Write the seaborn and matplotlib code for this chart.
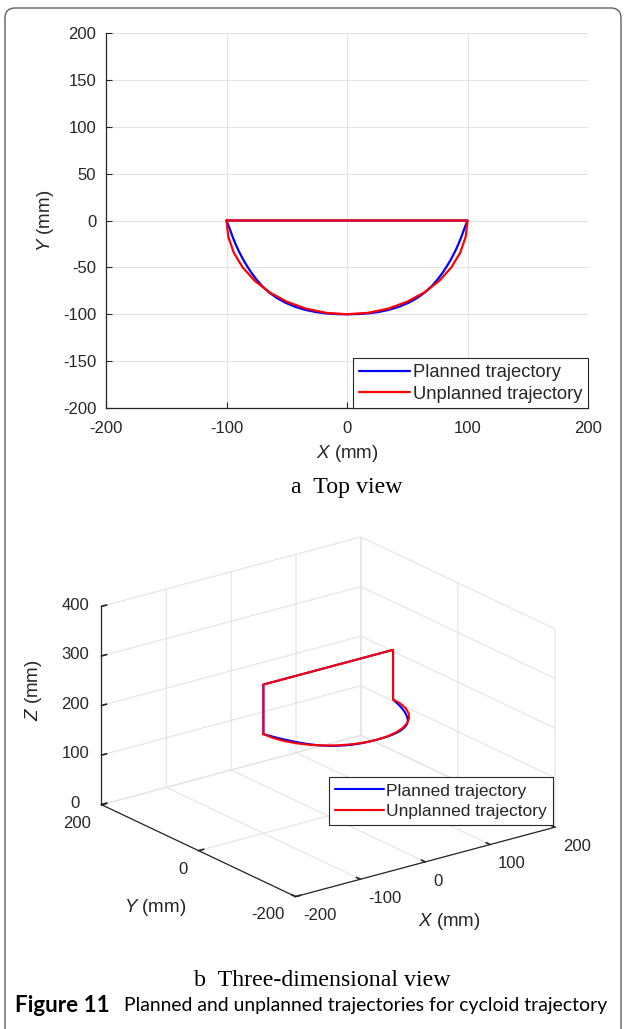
import numpy as np
import pandas as pd
import matplotlib
matplotlib.use("Agg")
import matplotlib.pyplot as plt
import seaborn as sns
from matplotlib.patches import FancyBboxPatch
from matplotlib.transforms import IdentityTransform

# ---------------- data ----------------
planned_x = [-100.0, -97.4, -95.1, -92.6, -89.8, -86.7, -83.2, -79.4, -75.1, -70.2,
             -64.5, -58.0, -50.8, -42.9, -34.7, -26.1, -17.5, -8.7, 0.0,
             8.7, 17.5, 26.1, 34.7, 42.9, 50.8, 58.0, 64.5, 70.2, 75.1,
             79.4, 83.2, 86.7, 89.8, 92.6, 95.1, 97.4, 100.0]
planned_y = [0.0, -8.5, -16.8, -24.8, -32.7, -40.4, -48.1, -55.6, -63.0, -70.2,
             -76.9, -82.8, -87.9, -92.1, -95.3, -97.6, -99.1, -99.8, -100.0,
             -99.8, -99.1, -97.6, -95.3, -92.1, -87.9, -82.8, -76.9, -70.2, -63.0,
             -55.6, -48.1, -40.4, -32.7, -24.8, -16.8, -8.5, 0.0]
unplanned_x = [-100.0, -98.5, -94.0, -86.6, -76.6, -64.3, -50.0, -34.2, -17.4, 0.0,
               17.4, 34.2, 50.0, 64.3, 76.6, 86.6, 94.0, 98.5, 100.0]
unplanned_y = [0.0, -17.4, -34.2, -50.0, -64.3, -76.6, -86.6, -94.0, -98.5, -100.0,
               -98.5, -94.0, -86.6, -76.6, -64.3, -50.0, -34.2, -17.4, 0.0]
curve_z = 200      # height of the curved part (mm)
top_z = 300        # height of the straight return segment (mm)

xy_ticks = [-200, -150, -100, -50, 0, 50, 100, 150, 200]
x2d_ticks = [-200, -100, 0, 100, 200]
x3d_ticks = [-200, -100, 0, 100, 200]
y3d_ticks = [-200, 0, 200]
z3d_ticks = [0, 100, 200, 300, 400]
series_names = ["Planned trajectory", "Unplanned trajectory"]
series_colors = ["#0000FF", "#FF0000"]

# ---------------- style ----------------
sns.set_theme(style="white")
plt.rcParams["font.family"] = ["Liberation Sans", "DejaVu Sans"]
plt.rcParams["mathtext.fontset"] = "custom"
plt.rcParams["mathtext.it"] = "Liberation Sans:italic"
plt.rcParams["mathtext.rm"] = "Liberation Sans"
plt.rcParams["axes.unicode_minus"] = False
plt.rcParams["grid.color"] = "#e3e3e3"
plt.rcParams["grid.linewidth"] = 0.8
DARK = "#262626"

W, H = 624, 1029
fig = plt.figure(figsize=(W / 100, H / 100), dpi=100)
fig.patch.set_facecolor("white")


def rect(x0, y0, x1, y1):
    return [x0 / W, 1 - y1 / H, (x1 - x0) / W, (y1 - y0) / H]


# ---------------- (a) top view ----------------
ax = fig.add_axes(rect(106, 33, 588, 408))
df_p = pd.DataFrame({"x": planned_x + [planned_x[0]], "y": planned_y + [planned_y[0]]})
df_u = pd.DataFrame({"x": unplanned_x + [unplanned_x[0]], "y": unplanned_y + [unplanned_y[0]]})
sns.lineplot(data=df_p, x="x", y="y", sort=False, estimator=None, ax=ax,
             color=series_colors[0], lw=1.6, label=series_names[0])
sns.lineplot(data=df_u, x="x", y="y", sort=False, estimator=None, ax=ax,
             color=series_colors[1], lw=1.6, label=series_names[1])
ax.set_xlim(-200, 200)
ax.set_ylim(-200, 200)
ax.set_xticks(x2d_ticks)
ax.set_yticks(xy_ticks)
ax.grid(True, color="#e3e3e3", lw=0.8)
for s in ["top", "right"]:
    ax.spines[s].set_visible(False)
for s in ["left", "bottom"]:
    ax.spines[s].set_color(DARK)
    ax.spines[s].set_linewidth(0.9)
ax.tick_params(direction="in", length=4, width=0.8, color=DARK, labelcolor=DARK,
               labelsize=12, left=True, bottom=True)
ax.tick_params(axis="x", pad=9)
ax.tick_params(axis="y", pad=7)
ax.set_xlabel(r"$\mathit{X}$ (mm)", fontsize=13.5, color=DARK)
ax.set_ylabel(r"$\mathit{Y}$ (mm)", fontsize=13.5, color=DARK)
ax.xaxis.set_label_coords(0.5, (408 - 453) / 375)
ax.xaxis.label.set_va("center")
ax.yaxis.set_label_coords((45 - 106) / 482, 0.5)
ax.yaxis.label.set_va("center")
leg = ax.legend(loc="lower right", bbox_to_anchor=(1.0, 0.0), borderaxespad=0,
                fontsize=13.2, frameon=True, fancybox=False, framealpha=1,
                edgecolor=DARK, handlelength=2.8, handletextpad=0.15,
                borderpad=0.3, labelspacing=0.25)
leg.get_frame().set_linewidth(0.8)
for t in leg.get_texts():
    t.set_color(DARK)

fig.text(347 / W, 1 - 488 / H, "a  Top view", family="Liberation Serif",
         fontsize=17.2, ha="center", va="center", color="black")

# ---------------- (b) three-dimensional view ----------------
ax3 = fig.add_axes(rect(72, 493, 572, 953), projection="3d")
ax3.set_proj_type("ortho")
ax3.view_init(elev=20.85, azim=-126.93)
ax3.set_box_aspect((1.529, 1.522, 1.0), zoom=1.065)
ax3.set_facecolor((1, 1, 1, 0))

px3 = planned_x + [planned_x[-1], planned_x[0], planned_x[0]]
py3 = planned_y + [0.0, 0.0, 0.0]
pz3 = [curve_z] * len(planned_x) + [top_z, top_z, curve_z]
ux3 = unplanned_x + [unplanned_x[-1], unplanned_x[0], unplanned_x[0]]
uy3 = unplanned_y + [0.0, 0.0, 0.0]
uz3 = [curve_z] * len(unplanned_x) + [top_z, top_z, curve_z]
l1, = ax3.plot(px3, py3, pz3, color=series_colors[0], lw=1.5)
l2, = ax3.plot(ux3, uy3, uz3, color=series_colors[1], lw=1.5)

ax3.set_xlim(-200, 200)
ax3.set_ylim(-200, 200)
ax3.set_zlim(0, 400)
ax3.set_xticks(x3d_ticks)
ax3.set_yticks(y3d_ticks)
ax3.set_zticks(z3d_ticks)
for axis in (ax3.xaxis, ax3.yaxis, ax3.zaxis):
    axis.set_pane_color((1, 1, 1, 0))
    axis.pane.set_edgecolor("#dcdcdc")
    axis._axinfo["grid"].update(color="#e3e3e3", linewidth=0.8)
    axis._axinfo["tick"].update(inward_factor=0.0, outward_factor=0.25)
    axis._axinfo["axisline"].update(color=DARK)
    axis.line.set_color(DARK)
    axis.line.set_linewidth(0.9)
ax3.tick_params(labelsize=12, labelcolor=DARK, colors=DARK, pad=2)
ax3.tick_params(axis="x", pad=-1)
ax3.tick_params(axis="y", pad=-1)
for t in ax3.xaxis.get_majorticklabels():
    t.set_ha("left")
for t in ax3.yaxis.get_majorticklabels():
    t.set_ha("right")
for t in ax3.zaxis.get_majorticklabels():
    t.set_va("center")
ax3.set_xlabel("")
ax3.set_ylabel("")
ax3.set_zlabel("")

fig.text(33 / W, 1 - 690 / H, r"$\mathit{Z}$ (mm)", rotation=90, fontsize=13.5,
         color=DARK, ha="center", va="center")
fig.text(155 / W, 1 - 907 / H, r"$\mathit{Y}$ (mm)", fontsize=13.5,
         color=DARK, ha="center", va="center")
fig.text(449 / W, 1 - 922 / H, r"$\mathit{X}$ (mm)", fontsize=13.5,
         color=DARK, ha="center", va="center")

leg3 = fig.legend([l1, l2], series_names, loc="lower right",
                  bbox_to_anchor=(553 / W, 1 - 825 / H), borderaxespad=0,
                  fontsize=12.5, frameon=True, fancybox=False, framealpha=1,
                  edgecolor=DARK, handlelength=2.8, handletextpad=0.15,
                  borderpad=0.35, labelspacing=0.3)
leg3.get_frame().set_linewidth(0.8)
for t in leg3.get_texts():
    t.set_color(DARK)

fig.text(194 / W, 1 - 980 / H, "b  Three-dimensional view", family="Liberation Serif",
         fontsize=17.2, ha="left", va="center", color="black")

# ---------------- figure caption ----------------
cap_b = fig.text(15 / W, 1 - 1006 / H, "Figure 11", family="Lato", weight="bold",
                 fontsize=13.5, ha="left", va="center", color="black")
cap_r = fig.text(124 / W, 1 - 1006 / H,
                 "Planned and unplanned trajectories for cycloid trajectory",
                 family="Lato", fontsize=13.5, ha="left", va="center", color="black")
fig.canvas.draw()
r = fig.canvas.get_renderer()
wr = cap_r.get_window_extent(r).width
fs = 13.5 * 484 / wr
cap_r.set_fontsize(fs)
cap_b.set_fontsize(fs * 1.15)

# ---------------- frame ----------------
frame = FancyBboxPatch((5, -30), 616, H - 8 + 30, boxstyle="round,pad=0,rounding_size=10",
                       transform=IdentityTransform(), fill=False, edgecolor="#606060",
                       lw=1.0, zorder=10)
fig.add_artist(frame)

fig.savefig("out.png", dpi=100)
